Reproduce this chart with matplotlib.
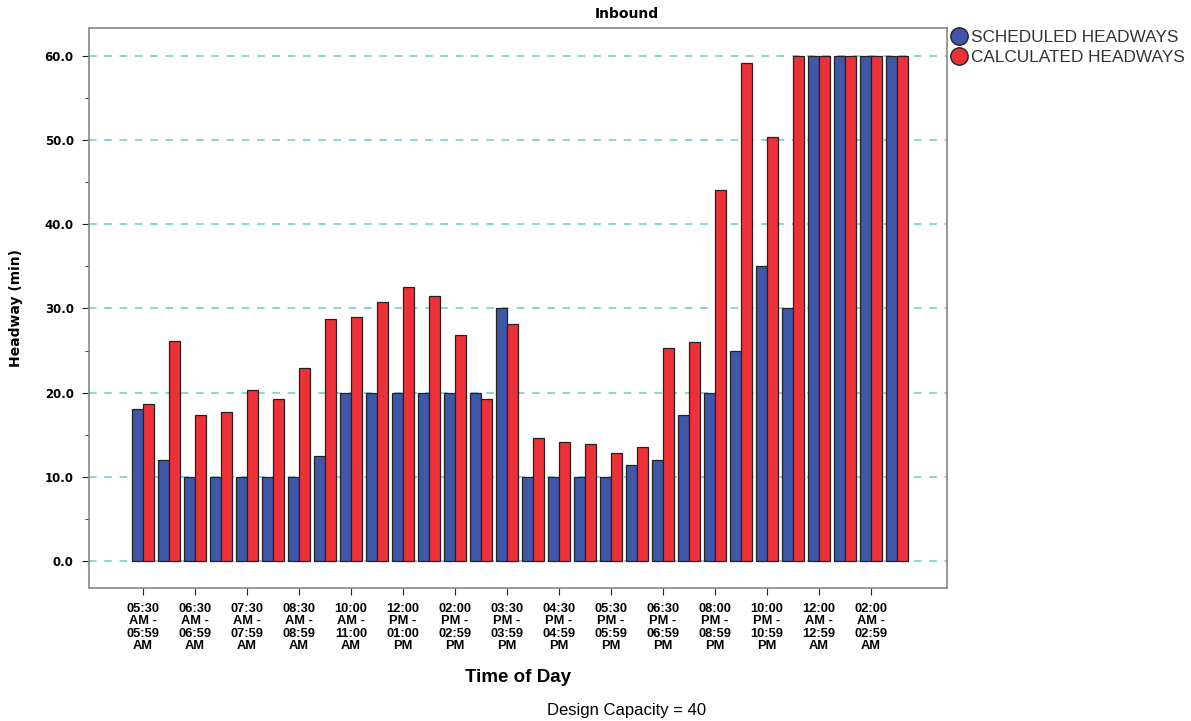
import matplotlib
matplotlib.use("Agg")
import matplotlib.pyplot as plt
import numpy as np
from matplotlib.lines import Line2D

tick_labels = ["05:30\nAM -\n05:59\nAM", "06:30\nAM -\n06:59\nAM", "07:30\nAM -\n07:59\nAM",
               "08:30\nAM -\n08:59\nAM", "10:00\nAM -\n11:00\nAM", "12:00\nPM -\n01:00\nPM",
               "02:00\nPM -\n02:59\nPM", "03:30\nPM -\n03:59\nPM", "04:30\nPM -\n04:59\nPM",
               "05:30\nPM -\n05:59\nPM", "06:30\nPM -\n06:59\nPM", "08:00\nPM -\n08:59\nPM",
               "10:00\nPM -\n10:59\nPM", "12:00\nAM -\n12:59\nAM", "02:00\nAM -\n02:59\nAM"]

scheduled = [18, 12, 10, 10, 10, 10, 10, 12.5, 20, 20, 20, 20, 20, 20, 30,
             10, 10, 10, 10, 11.4, 12, 17.3, 20, 25, 35, 30, 60, 60, 60, 60]
calculated = [18.6, 26.1, 17.4, 17.7, 20.3, 19.3, 22.9, 28.7, 29.0, 30.8, 32.6, 31.5, 26.8, 19.2, 28.1,
              14.6, 14.1, 13.9, 12.8, 13.5, 25.3, 26.0, 44.1, 59.1, 50.3, 60, 60, 60, 60, 60]

blue = "#3F57A9"
red = "#EE3038"
W, H = 1191, 721
fig = plt.figure(figsize=(W / 100, H / 100), dpi=100)
ax = fig.add_axes([89 / W, 1 - 588 / H, (947 - 89) / W, (588 - 28) / H])

x = np.arange(len(scheduled))
bw = 0.42
ax.bar(x - bw / 2, scheduled, width=bw, color=blue, edgecolor="#222222", linewidth=0.9, zorder=3)
ax.bar(x + bw / 2, calculated, width=bw, color=red, edgecolor="#222222", linewidth=0.9, zorder=3)

ax.set_xlim(-2.08, 30.92)
ax.set_ylim(-3.2, 63.3)
ax.set_yticks([0, 10, 20, 30, 40, 50, 60])
ax.set_yticklabels([f"{v:.1f}" for v in [0, 10, 20, 30, 40, 50, 60]], fontweight="bold", fontsize=8.5)
ax.set_yticks([5, 15, 25, 35, 45, 55], minor=True)
ax.yaxis.grid(True, which="major", linestyle=(0, (5, 5)), color="#66CCCC", linewidth=1.1, zorder=1)
ax.set_xticks(x[::2])
ax.set_xticklabels(tick_labels, fontweight="bold", fontsize=9.3, family="Liberation Sans",
                   linespacing=1.02)
ax.tick_params(axis="both", which="major", length=5, direction="out", color="#222222")
ax.tick_params(axis="x", which="major", pad=6)
ax.tick_params(axis="y", which="major", pad=6)
ax.tick_params(axis="y", which="minor", length=3, color="#222222")
for s in ax.spines.values():
    s.set_color("#888888")
    s.set_linewidth(1.2)

fig.text(16 / W, 1 - 308 / H, "Headway (min)", ha="center", va="center", rotation=90,
         fontweight="bold", fontsize=10, family="DejaVu Sans")
fig.text(518 / W, 1 - 678 / H, "Time of Day", ha="center", va="center", fontweight="bold",
         fontsize=13.5, family="Liberation Sans")
fig.text(627 / W, 1 - 14 / H, "Inbound", ha="center", va="center", fontweight="bold",
         fontsize=10, family="DejaVu Sans")
fig.text(627 / W, 1 - 710 / H, "Design Capacity = 40", ha="center", va="center",
         fontsize=12, family="Liberation Sans")

handles = [Line2D([], [], marker="o", linestyle="", markersize=12.5, markerfacecolor=blue,
                  markeredgecolor="#222222", markeredgewidth=1),
           Line2D([], [], marker="o", linestyle="", markersize=12.5, markerfacecolor=red,
                  markeredgecolor="#222222", markeredgewidth=1)]
leg = fig.legend(handles, ["SCHEDULED HEADWAYS", "CALCULATED HEADWAYS"], loc="upper left",
                 bbox_to_anchor=(946 / W, 1 - 27 / H), frameon=False, handletextpad=0.15,
                 labelspacing=0.25, prop={"family": "Liberation Sans", "size": 12.4}, borderaxespad=0,
                 handlelength=1.1, borderpad=0.2)
for t in leg.get_texts():
    t.set_color("#333333")

fig.savefig("out.png", dpi=100)
